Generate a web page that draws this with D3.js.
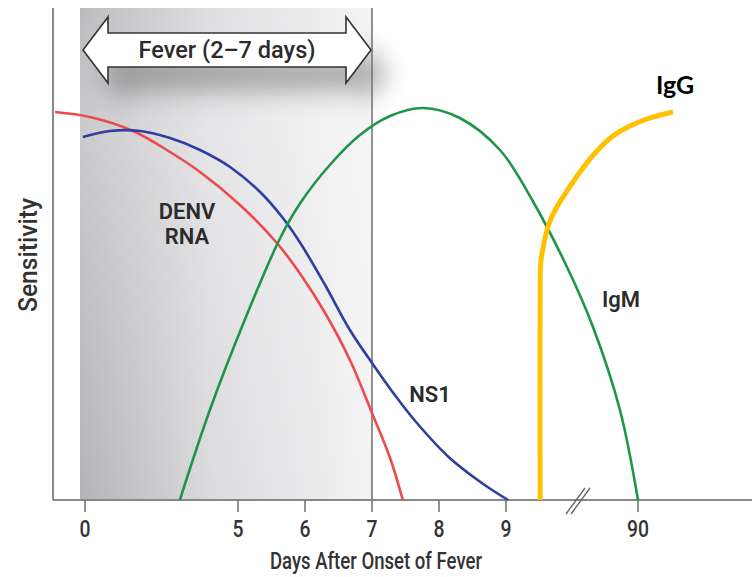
<!DOCTYPE html>
<html><head><meta charset="utf-8">
<script src="https://cdn.jsdelivr.net/npm/d3@7"></script>
<style>body{margin:0;background:#fff}svg{display:block}</style>
</head><body>
<script>
// ---- data (days after onset, sensitivity 0-100) ----
const tickDays = [0, 5, 6, 7, 8, 9, 90];
const tickLabels = ["0", "5", "6", "7", "8", "9", "90"];
const rnaDays = [-0.98, 0.16, 1.57, 2.78, 3.76, 5.03, 5.58, 5.93, 6.30, 6.67, 7.0, 7.27, 7.46];
const rnaSens = [97, 95.75, 92.25, 87, 82, 73.75, 64.25, 56.5, 46.75, 35, 21.75, 10.5, 0];
const ns1Days = [-0.07, 0.82, 1.80, 2.78, 3.76, 4.74, 5.33, 5.67, 5.93, 6.30, 6.67, 7.0, 7.34, 7.67, 8.16, 8.66, 9.03];
const ns1Sens = [90.75, 92.25, 92.25, 90.5, 87.5, 83.25, 77, 70.5, 64.25, 53.75, 42.5, 34.25, 26.25, 19.25, 10.5, 4, 0];
const igmDays = [3.10, 4.08, 5.10, 5.63, 5.93, 6.37, 6.82, 7.27, 7.76, 8.31, 8.91, 9.39, 9.91, 34.6, 67.8, 90];
const igmSens = [0, 22.5, 45, 65.5, 74.25, 83.75, 91.25, 96, 98, 95.5, 87.5, 75, 58.25, 43.25, 22.5, 0];
const iggDays = [9.51, 9.51, 9.52, 9.57, 9.64, 9.75, 9.90, 18.6, 38.3, 59.2, 80.2, 104.8, 133.1];
const iggSens = [0, 54, 59.5, 64.5, 69, 73, 77, 82, 87, 91, 93.5, 95.5, 97];
const feverStart = 0, feverEnd = 7;

(function () {
const W = 752, H = 577;
const svg = d3.select("body").append("svg").attr("width", W).attr("height", H);
const defs = svg.append("defs");

// piecewise (broken) day scale
const x = d3.scaleLinear().domain([0, 5, 10, 90]).range([85, 238, 573, 638]);
const y = d3.scaleLinear().domain([0, 100]).range([500, 100]);
const plotTop = 8, plotLeft = 53;

const font = "Roboto, 'DejaVu Sans Condensed', sans-serif";

// shaded fever band
const g1 = defs.append("linearGradient").attr("id", "band").attr("x1", 0).attr("x2", 1).attr("y1", 0).attr("y2", 0);
g1.append("stop").attr("offset", 0).attr("stop-color", "#b4b4b8");
g1.append("stop").attr("offset", 0.45).attr("stop-color", "#dbdbde");
g1.append("stop").attr("offset", 1).attr("stop-color", "#f3f3f4");
const g2 = defs.append("linearGradient").attr("id", "bandTop").attr("x1", 0).attr("x2", 0).attr("y1", 0).attr("y2", 1);
g2.append("stop").attr("offset", 0).attr("stop-color", "#ffffff").attr("stop-opacity", 0.1);
g2.append("stop").attr("offset", 0.25).attr("stop-color", "#ffffff").attr("stop-opacity", 0.3);
g2.append("stop").attr("offset", 1).attr("stop-color", "#ffffff").attr("stop-opacity", 0);

const bandX0 = x(feverStart) - 5, bandX1 = x(feverEnd);
svg.append("rect").attr("x", bandX0).attr("y", plotTop).attr("width", bandX1 - bandX0).attr("height", y(0) - plotTop).attr("fill", "url(#band)");
svg.append("rect").attr("x", bandX0).attr("y", plotTop).attr("width", bandX1 - bandX0).attr("height", y(0) - plotTop).attr("fill", "url(#bandTop)");

// arrow shadow
const blur = defs.append("filter").attr("id", "blur").attr("x", "-30%").attr("y", "-100%").attr("width", "160%").attr("height", "300%");
blur.append("feGaussianBlur").attr("stdDeviation", 12);

const ax0 = x(feverStart) - 2, ax1 = x(feverEnd) - 1, ay = 50;
const headW = 25, shaftH = 17, headH = 33;
const arrowPts = [
  [ax0, ay], [ax0 + headW, ay - headH], [ax0 + headW, ay - shaftH], [ax1 - headW, ay - shaftH],
  [ax1 - headW, ay - headH], [ax1, ay], [ax1 - headW, ay + headH], [ax1 - headW, ay + shaftH],
  [ax0 + headW, ay + shaftH], [ax0 + headW, ay + headH]
];
svg.append("polygon").attr("points", arrowPts.map(p => [p[0] + 18, p[1] + 24].join(",")).join(" "))
  .attr("fill", "#666").attr("opacity", 0.5).attr("filter", "url(#blur)");

// axes frame
svg.append("line").attr("x1", plotLeft).attr("x2", plotLeft).attr("y1", plotTop).attr("y2", y(0)).attr("stroke", "#888").attr("stroke-width", 2);
svg.append("line").attr("x1", plotLeft).attr("x2", W).attr("y1", y(0)).attr("y2", y(0)).attr("stroke", "#888").attr("stroke-width", 2);
svg.append("line").attr("x1", x(feverEnd)).attr("x2", x(feverEnd)).attr("y1", plotTop).attr("y2", y(0)).attr("stroke", "#777").attr("stroke-width", 1.6);

// arrow
svg.append("polygon").attr("points", arrowPts.map(p => p.join(",")).join(" "))
  .attr("fill", "#fff").attr("stroke", "#333").attr("stroke-width", 1.6).attr("stroke-linejoin", "miter");
svg.append("text").attr("x", (ax0 + ax1) / 2).attr("y", ay + 8).attr("text-anchor", "middle")
  .attr("font-family", font).attr("font-size", 23).attr("font-weight", 500).attr("fill", "#2b2b2b")
  .attr("textLength", 177).attr("lengthAdjust", "spacingAndGlyphs").text("Fever (2–7 days)");

// ticks
const tg = svg.append("g");
tickDays.forEach((d, i) => {
  tg.append("line").attr("x1", x(d)).attr("x2", x(d)).attr("y1", y(0)).attr("y2", y(0) + 12).attr("stroke", "#777").attr("stroke-width", 1.6);
  tg.append("text").attr("x", x(d)).attr("y", 537).attr("text-anchor", "middle")
    .attr("font-family", font).attr("font-size", 24).attr("font-weight", 500).attr("fill", "#333")
    .attr("textLength", 11 * tickLabels[i].length).attr("lengthAdjust", "spacingAndGlyphs").text(tickLabels[i]);
});
// axis break marks
[0, 5].forEach(o => {
  svg.append("line").attr("x1", 566 + o).attr("y1", 514).attr("x2", 585 + o).attr("y2", 488)
    .attr("stroke", "#666").attr("stroke-width", 1.4);
});

// curves
const line = d3.line().x(d => x(d[0])).y(d => y(d[1])).curve(d3.curveCatmullRom.alpha(0.5));
const series = [
  {days: rnaDays, sens: rnaSens, color: "#ee4a4e", w: 2.6},
  {days: ns1Days, sens: ns1Sens, color: "#2e3f9f", w: 2.6},
  {days: igmDays, sens: igmSens, color: "#1f9548", w: 2.6},
  {days: iggDays, sens: iggSens, color: "#ffc000", w: 5}
];
series.forEach(s => {
  svg.append("path").datum(s.days.map((d, i) => [d, s.sens[i]]))
    .attr("d", line).attr("fill", "none").attr("stroke", s.color).attr("stroke-width", s.w).attr("stroke-linecap", "butt");
});

// labels
const lab = (t, cx, cy, size, opts = {}) => svg.append("text").attr("x", cx).attr("y", cy).attr("text-anchor", "middle")
  .attr("font-family", opts.family || font).attr("font-size", size).attr("font-weight", opts.weight || 600)
  .attr("fill", opts.fill || "#2b2b2b").text(t);
lab("DENV", 187, 219, 22);
lab("RNA", 187, 244, 22);
lab("NS1", 430, 402, 22);
lab("IgM", 621, 307, 22);
lab("IgG", 675, 94, 25, {family: "Lato, 'Open Sans', sans-serif", weight: "bold", fill: "#000"});

// axis titles
svg.append("text").attr("x", 376).attr("y", 569).attr("text-anchor", "middle").attr("font-family", font)
  .attr("font-size", 24).attr("font-weight", 500).attr("fill", "#333")
  .attr("textLength", 212).attr("lengthAdjust", "spacingAndGlyphs").text("Days After Onset of Fever");
svg.append("text").attr("transform", "translate(37,255) rotate(-90)").attr("text-anchor", "middle").attr("font-family", font)
  .attr("font-size", 25).attr("font-weight", 500).attr("fill", "#333")
  .attr("textLength", 114).attr("lengthAdjust", "spacingAndGlyphs").text("Sensitivity");
})();
</script>
</body></html>
